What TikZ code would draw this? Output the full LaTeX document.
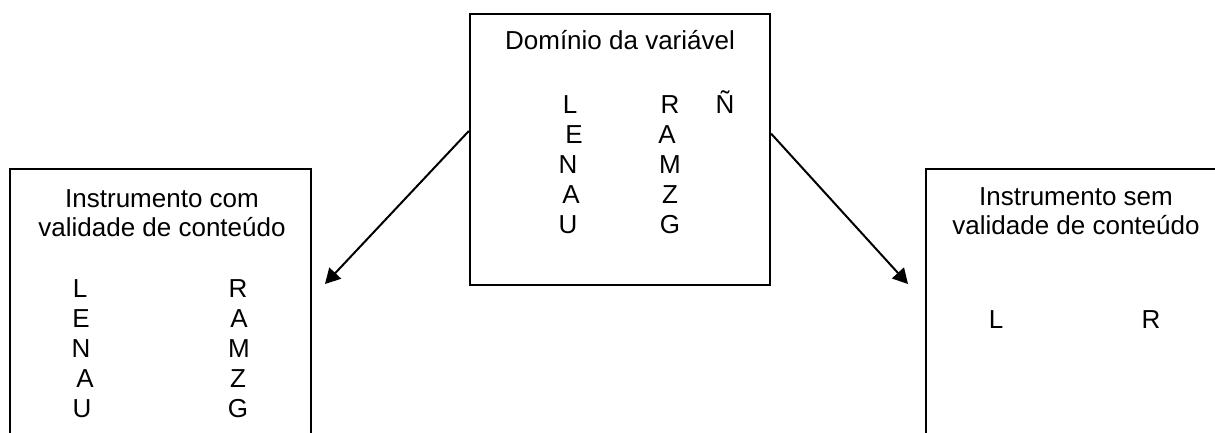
\documentclass[tikz,border=0pt]{standalone}
\usepackage{fontspec}
\setmainfont{Liberation Sans}
\usetikzlibrary{arrows.meta}
\begin{document}
\begin{tikzpicture}[x=0.5pt,y=-0.5pt,
  box/.style={draw, line width=1.1pt, rectangle, inner sep=0pt},
  lbl/.style={inner sep=0pt, anchor=base, font=\fontsize{13pt}{15pt}\selectfont},
  arr/.style={line width=1pt, -{Triangle[length=7.5pt,width=8pt]}}]
\useasboundingbox (0,0) rectangle (1215,433);
\clip (0,0) rectangle (1215,433);
% boxes
\node[box, minimum width=150pt, minimum height=135.5pt] (dom) at (620,149.5) {};
\node[box, minimum width=150.5pt, minimum height=145.5pt] (lbox) at (160.5,314.5) {};
\node[box, minimum width=157pt, minimum height=145.5pt] (rbox) at (1083,314.5) {};
% centre box texts
\node[lbl] (domt) at (620,50) {Domínio da variável};
\node[lbl] (d1) at (570,113) {L};
\node[lbl] (d2) at (574,143) {E};
\node[lbl] (d3) at (568,173) {N};
\node[lbl] (d4) at (571,203) {A};
\node[lbl] (d5) at (568,233) {U};
\node[lbl] (d6) at (670,113) {R};
\node[lbl] (d7) at (667,143) {A};
\node[lbl] (d8) at (670,173) {M};
\node[lbl] (d9) at (670,203) {Z};
\node[lbl] (d10) at (670,233) {G};
\node[lbl] (d11) at (725,113) {Ñ};
% left box texts
\node[lbl] (lt1) at (162,207) {Instrumento com};
\node[lbl] (lt2) at (162,236) {validade de conteúdo};
\node[lbl] (l1) at (80,297) {L};
\node[lbl] (l2) at (81,327) {E};
\node[lbl] (l3) at (81,357) {N};
\node[lbl] (l4) at (85,387) {A};
\node[lbl] (l5) at (82,417) {U};
\node[lbl] (l6) at (238,297) {R};
\node[lbl] (l7) at (239,327) {A};
\node[lbl] (l8) at (239,357) {M};
\node[lbl] (l9) at (238,387) {Z};
\node[lbl] (l10) at (238,417) {G};
% right box texts
\node[lbl] (rt1) at (1076,205) {Instrumento sem};
\node[lbl] (rt2) at (1076,234) {validade de conteúdo};
\node[lbl] (r1) at (996,328) {L};
\node[lbl] (r2) at (1151,328) {R};
% arrows
\coordinate (ltip) at (325,284);
\coordinate (rtip) at (908,284);
\draw[arr] (dom.173.7) -- (ltip);
\draw[arr] (dom.6.3) -- (rtip);
\end{tikzpicture}
\end{document}
